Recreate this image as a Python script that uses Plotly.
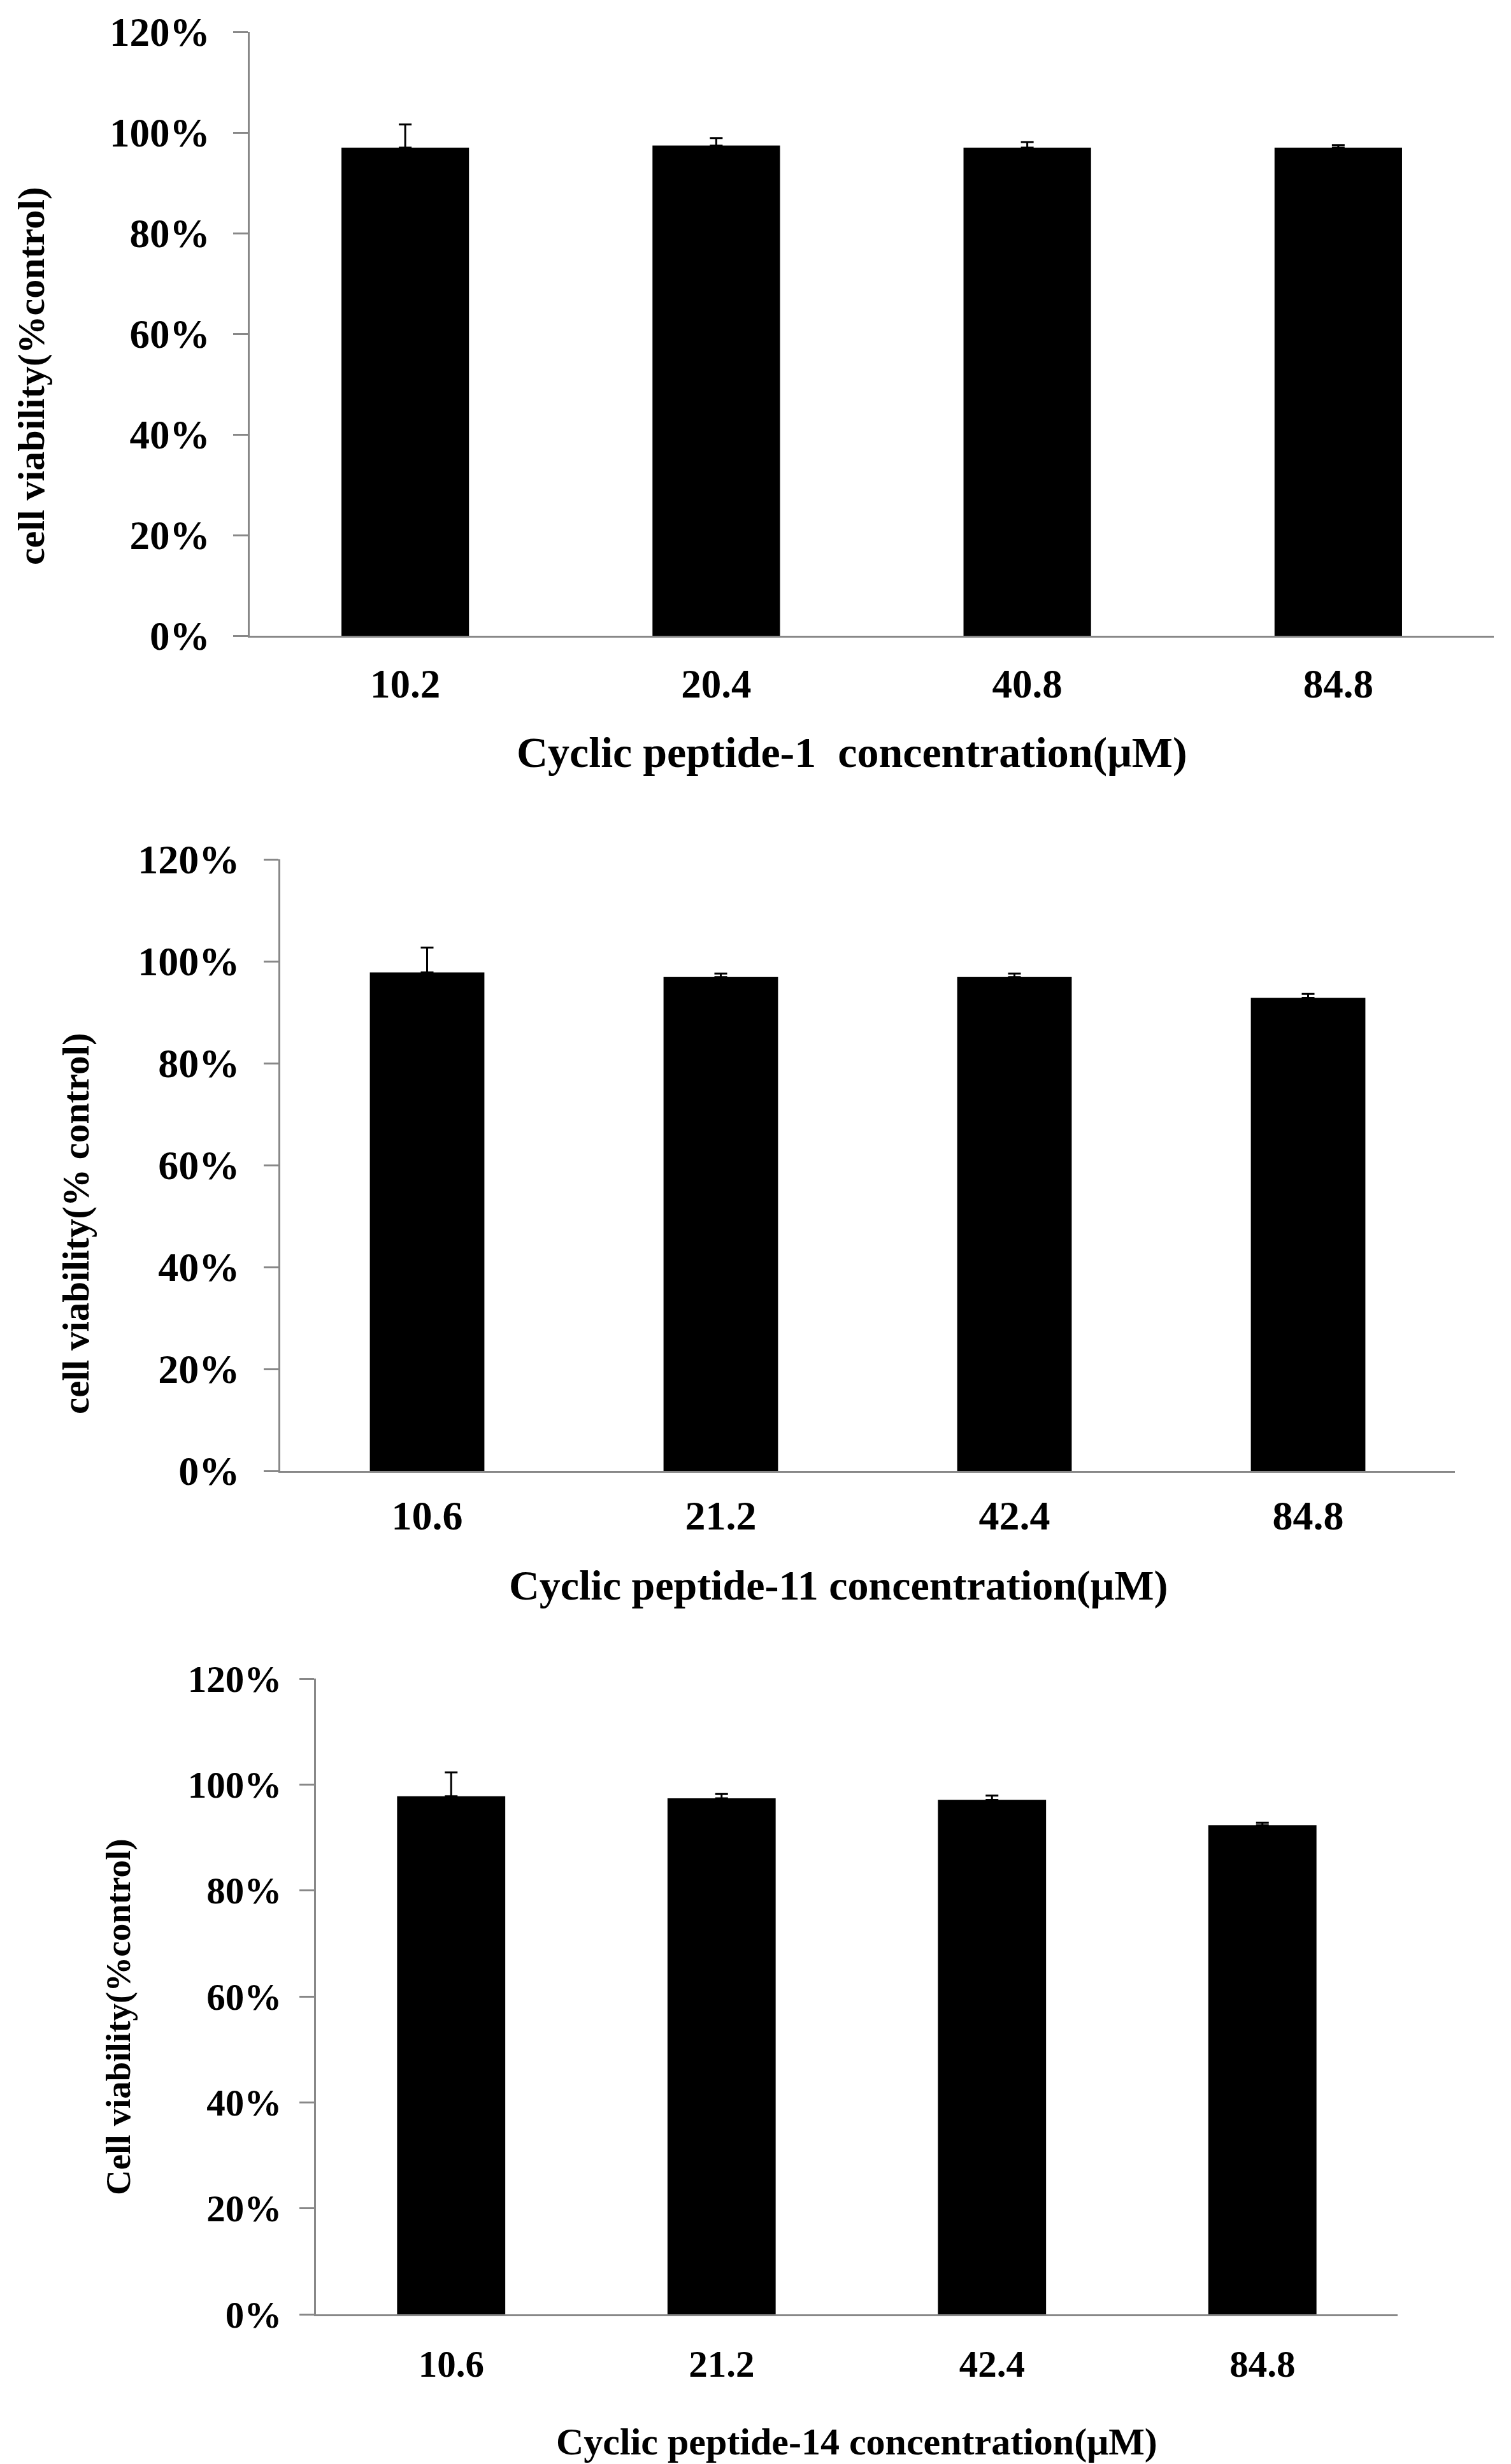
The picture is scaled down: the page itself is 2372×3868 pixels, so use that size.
import plotly.graph_objects as go

# ---- data ----
conc1 = ["10.2", "20.4", "40.8", "84.8"]
via1 = [97.0, 97.4, 97.0, 97.0]
err1 = [4.6, 1.5, 1.1, 0.5]

conc2 = ["10.6", "21.2", "42.4", "84.8"]
via2 = [97.8, 96.9, 96.9, 92.8]
err2 = [4.9, 0.7, 0.7, 0.8]

conc3 = ["10.6", "21.2", "42.4", "84.8"]
via3 = [97.8, 97.4, 97.1, 92.3]
err3 = [4.5, 0.8, 0.8, 0.5]

yticks = [0, 20, 40, 60, 80, 100, 120]
ytick_text = ["0%", "20%", "40%", "60%", "80%", "100%", "120%"]

xtitles = ["Cyclic peptide-1  concentration(μM)",
           "Cyclic peptide-11 concentration(μM)",
           "Cyclic peptide-14 concentration(μM)"]
ytitles = ["cell viability(%control)",
           "cell viability(% control)",
           "Cell viability(%control)"]

W, H = 2372, 3868
OFF = 8  # page body margin
FONT = "Liberation Serif"
GRAY = "#888888"

# panel pixel boxes (page coords): (x_left, x_right, y_top(120%), y_bottom(0%))
boxes = [(392, 2345, 50, 998), (440, 2284, 1349, 2309), (496, 2194, 2635, 3633)]
barw = [0.41, 0.39, 0.40]
ytitle_pos = [(49, 590), (119, 1921), (185, 3166)]
xtitle_pos = [(1337, 1181), (1316, 2489), (1345, 3833)]
xlab_stand = [18, 12, 24]
ylab_stand = [24, 25, 16]
tick_size = [63, 64, 59]
xtitle_size = [68, 66, 60]
ytitle_size = [60, 59, 55]


def px(x):
    return (x - OFF) / W


def py(y):
    return 1 - (y - OFF) / H


fig = go.Figure()
datasets = [(conc1, via1, err1), (conc2, via2, err2), (conc3, via3, err3)]

for i, (c, v, e) in enumerate(datasets):
    n = "" if i == 0 else str(i + 1)
    fig.add_trace(go.Bar(
        x=c, y=v, width=barw[i],
        marker=dict(color="black", line=dict(width=0)),
        error_y=dict(type="data", symmetric=False, array=e,
                     arrayminus=[0] * len(e), color="black",
                     thickness=3, width=10),
        xaxis="x" + n, yaxis="y" + n, showlegend=False,
    ))
    xl, xr, yt, yb = boxes[i]
    tf = dict(family=FONT, size=tick_size[i], color="black", weight="bold")
    fig.update_layout(**{
        "xaxis" + n: dict(
            domain=[px(xl), px(xr)], anchor="y" + n, automargin=False,
            range=[-0.5, 3.5], showline=True, linecolor=GRAY, linewidth=3,
            ticks="", showgrid=False, zeroline=False,
            tickfont=tf, ticklabelstandoff=xlab_stand[i],
            ticklabeloverflow="allow",
        ),
        "yaxis" + n: dict(
            domain=[py(yb), py(yt)], anchor="x" + n, automargin=False,
            range=[0, 120], tickmode="array", tickvals=yticks, ticktext=ytick_text,
            showline=True, linecolor=GRAY, linewidth=3,
            ticks="outside", ticklen=23, tickwidth=3, tickcolor=GRAY,
            showgrid=False, zeroline=False,
            tickfont=tf, ticklabelstandoff=ylab_stand[i],
            ticklabeloverflow="allow",
        ),
    })
    tx, ty = xtitle_pos[i]
    fig.add_annotation(x=px(tx), y=py(ty), xref="paper", yref="paper",
                       text=xtitles[i], showarrow=False,
                       font=dict(family=FONT, size=xtitle_size[i], color="black", weight="bold"),
                       xanchor="center", yanchor="middle")
    yx, yy = ytitle_pos[i]
    fig.add_annotation(x=px(yx), y=py(yy), xref="paper", yref="paper",
                       text=ytitles[i], showarrow=False, textangle=-90,
                       font=dict(family=FONT, size=ytitle_size[i], color="black", weight="bold"),
                       xanchor="center", yanchor="middle")

fig.update_layout(
    width=W, height=H, autosize=False,
    margin=dict(l=0, r=0, t=0, b=0, pad=0),
    paper_bgcolor="white", plot_bgcolor="white",
    showlegend=False,
)

fig.write_html("out.html")
